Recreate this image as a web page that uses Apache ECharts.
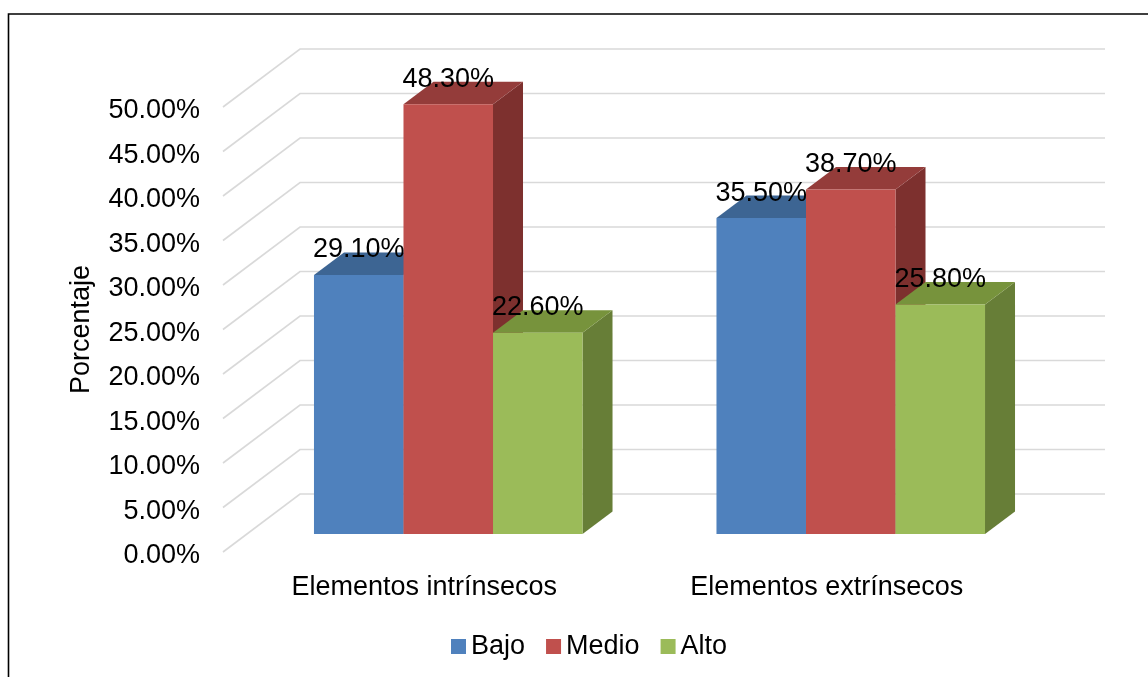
<!DOCTYPE html>
<html>
<head>
<meta charset="utf-8">
<script src="https://cdn.jsdelivr.net/npm/echarts@6/dist/echarts.min.js"></script>
<style>
  html, body { margin: 0; padding: 0; background: #fff; }
  #chart { width: 1148px; height: 677px; }
</style>
</head>
<body>
<div id="chart"></div>
<script>
const categories = ["Elementos intrínsecos", "Elementos extrínsecos"];
const seriesNames = ["Bajo", "Medio", "Alto"];
const bajo = [29.1, 35.5];
const medio = [48.3, 38.7];
const alto = [22.6, 25.8];
const yTicks = [0, 5, 10, 15, 20, 25, 30, 35, 40, 45, 50];

// face colours: front / top / side
const faces = [
  { front: "#4f81bd", top: "#3d6593", side: "#385d8a" },
  { front: "#c0504d", top: "#943c3a", side: "#7d302e" },
  { front: "#9bbb59", top: "#77933c", side: "#677e37" }
];

const FONT = "'Liberation Sans', Arial, sans-serif";
const WALL_DX = 77, WALL_DY = 58;   // depth of the floor/back wall
const BAR_DX = 30, BAR_DY = 22.5;   // depth of each bar
const BAR_RATIO = 0.2224;           // bar width / category width

const chart = echarts.init(document.getElementById("chart"));

function barSeries(name, values, k) {
  const c = faces[k];
  return {
    type: "custom",
    name,
    xAxisIndex: 1,
    yAxisIndex: 1,
    clip: false,
    itemStyle: { color: c.front },
    data: values.map((v, i) => [i, v]),
    renderItem: (params, api) => {
      const top = api.coord([api.value(0), api.value(1)]);
      const base = api.coord([api.value(0), 0]);
      const bw = api.size([1, 0])[0] * BAR_RATIO;
      const x0 = top[0] - 1.5 * bw + k * bw;
      const x1 = x0 + bw;
      const yt = top[1], yb = base[1];
      return {
        type: "group",
        children: [
          {
            type: "polygon", z2: k * 10 + 1,
            shape: { points: [[x1, yt], [x1 + BAR_DX, yt - BAR_DY], [x1 + BAR_DX, yb - BAR_DY], [x1, yb]] },
            style: { fill: c.side }
          },
          {
            type: "polygon", z2: k * 10 + 2,
            shape: { points: [[x0, yt], [x1, yt], [x1 + BAR_DX, yt - BAR_DY], [x0 + BAR_DX, yt - BAR_DY]] },
            style: { fill: c.top }
          },
          {
            type: "rect", z2: k * 10 + 3,
            shape: { x: x0, y: yt, width: bw, height: yb - yt },
            style: { fill: c.front }
          },
          {
            type: "text", z2: 100,
            style: {
              text: api.value(1).toFixed(2) + "%",
              x: x0 + bw / 2, y: yt - 25,
              align: "center", verticalAlign: "middle",
              font: "27px " + FONT, fill: "#000"
            }
          }
        ]
      };
    }
  };
}

const option = {
  animation: false,
  backgroundColor: "#fff",
  textStyle: { fontFamily: FONT },
  graphic: [{
    type: "rect",
    shape: { x: 8.5, y: 14, width: 1150, height: 680 },
    style: { fill: "none", stroke: "#000", lineWidth: 1.6 },
    z: 0
  }],
  legend: {
    data: seriesNames,
    left: 446,
    top: 628,
    icon: "rect",
    itemWidth: 15,
    itemHeight: 15,
    itemGap: 21,
    textStyle: { fontSize: 27, color: "#000", fontFamily: FONT }
  },
  grid: [
    { left: 223, right: 120, top: 107, bottom: 125 },  // front wall edge
    { left: 247, right: 96, top: 89, bottom: 143 }     // plane of bar fronts
  ],
  xAxis: [
    {
      type: "category", gridIndex: 0, data: categories,
      axisLine: { show: false }, axisTick: { show: false },
      axisLabel: { fontSize: 27, color: "#000", margin: 22, fontFamily: FONT }
    },
    {
      type: "category", gridIndex: 1, data: categories,
      axisLine: { show: false }, axisTick: { show: false }, axisLabel: { show: false }
    }
  ],
  yAxis: [
    {
      type: "value", gridIndex: 0, min: 0, max: 50, interval: 5,
      name: "Porcentaje", nameLocation: "middle", nameGap: 128, nameRotate: 90,
      nameTextStyle: { fontSize: 27, color: "#000", fontFamily: FONT },
      splitLine: { show: false }, axisLine: { show: false }, axisTick: { show: false },
      axisLabel: {
        color: "#000", margin: 23, fontFamily: FONT,
        formatter: v => "{a|" + v.toFixed(2) + "%}",
        rich: { a: { fontSize: 27, color: "#000", fontFamily: FONT, padding: [8, 0, 0, 0] } }
      }
    },
    {
      type: "value", gridIndex: 1, min: 0, max: 50, interval: 5,
      splitLine: { show: false }, axisLine: { show: false }, axisTick: { show: false },
      axisLabel: { show: false }
    }
  ],
  series: [
    {
      type: "custom",
      name: "walls",
      xAxisIndex: 0,
      yAxisIndex: 0,
      clip: false,
      silent: true,
      z: 1,
      data: yTicks.map(v => [0, v]),
      renderItem: (params, api) => {
        const cs = params.coordSys;
        const y = api.coord([0, api.value(1)])[1];
        return {
          type: "polyline",
          shape: { points: [[cs.x, y], [cs.x + WALL_DX, y - WALL_DY], [cs.x + cs.width + WALL_DX, y - WALL_DY]] },
          style: { fill: null, stroke: "#d9d9d9", lineWidth: 1.6 }
        };
      }
    },
    barSeries(seriesNames[0], bajo, 0),
    barSeries(seriesNames[1], medio, 1),
    barSeries(seriesNames[2], alto, 2)
  ]
};

chart.setOption(option);
</script>
</body>
</html>
